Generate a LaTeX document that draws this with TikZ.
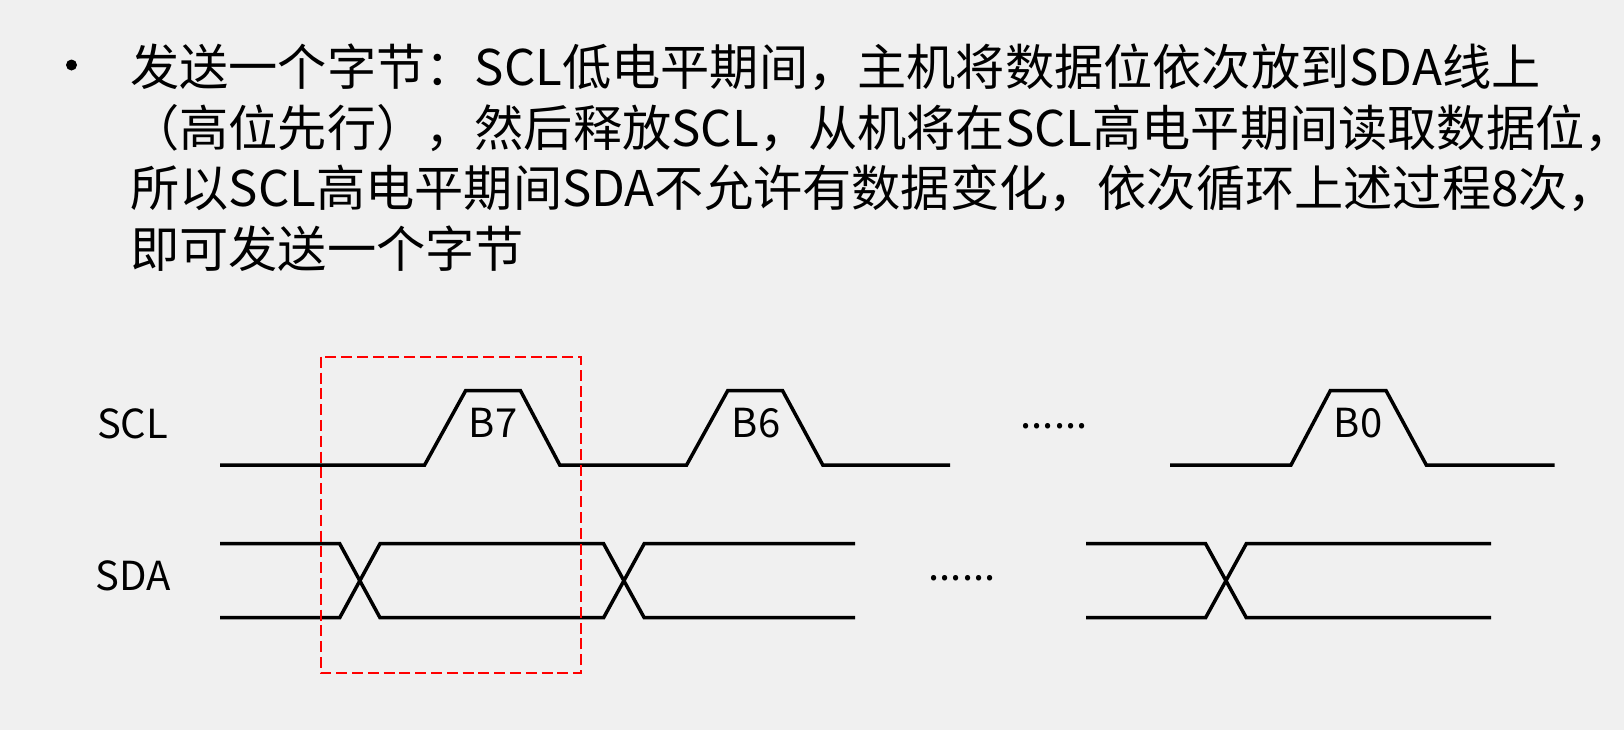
\documentclass[tikz,border=0pt]{standalone}
\usepackage{fontspec}
\setmainfont{Noto Sans CJK SC}
\setsansfont{Noto Sans CJK SC}
\definecolor{bg}{HTML}{F0F0F0}
\definecolor{boxred}{HTML}{FF0000}
\newcommand{\tailcomma}{\makebox[0.3em][l]{，}}
\tikzset{
  wave/.style={line width=1.75pt, line join=miter, line cap=butt, black},
  selbox/.style={draw=boxred, line width=1.1pt, dash pattern=on 5.5pt off 2.4pt},
  txt/.style={font=\fontsize{24.6pt}{30pt}\selectfont, anchor=base west, inner sep=0pt, text=black},
  lbl/.style={font=\fontsize{20pt}{24pt}\selectfont, inner sep=0pt, text=black},
  dots/.style={font=\fontsize{20pt}{24pt}\selectfont, inner sep=0pt, anchor=base, text=black},
  bulletdot/.style={circle, fill=black, minimum size=5.5pt, inner sep=0pt}
}
\begin{document}
\begin{tikzpicture}[x=0.5pt,y=-0.5pt]
\useasboundingbox (0,0) rectangle (1624,730);
\fill[bg] (0,0) rectangle (1624,730);
% text
\node[bulletdot] (bul) at (71.5,65) {};
\node[txt] (l1) at (130,85.5) {发送一个字节：SCL低电平期间，主机将数据位依次放到SDA线上};
\node[txt] (l2) at (130,146) {（高位先行），然后释放SCL，从机将在SCL高电平期间读取数据位\tailcomma};
\node[txt] (l3) at (130,206.5) {所以SCL高电平期间SDA不允许有数据变化，依次循环上述过程8次\tailcomma};
\node[txt] (l4) at (130,267) {即可发送一个字节};
% labels
\node[lbl] (scl) at (132.6,423.6) {SCL};
\node[lbl] (sda) at (133.6,575.9) {SDA};
\node[lbl] (b7) at (493,422.6) {B7};
\node[lbl] (b6) at (756,422.6) {B6};
\node[lbl] (b0) at (1358,422.6) {B0};
\node[dots] (d1) at (1054,428) {......};
\node[dots] (d2) at (962,580) {......};
% SCL
\draw[wave] (220,465) -- (424.6,465) -- (465.6,390.7) -- (520.5,390.7) -- (559.8,465) -- (686.6,465) -- (727.7,390.7) -- (782.6,390.7) -- (822.8,465) -- (950,465);
\draw[wave] (1170,465) -- (1291,465) -- (1330.3,390.7) -- (1386.1,390.7) -- (1426.3,465) -- (1554.5,465);
% SDA
\draw[wave] (220,543.7) -- (339.7,543.7) -- (380,617.7) -- (603.6,617.7) -- (644.2,543.7) -- (855,543.7);
\draw[wave] (220,617.7) -- (339.7,617.7) -- (380,543.7) -- (603.6,543.7) -- (644.2,617.7) -- (855,617.7);
\draw[wave] (1086,543.7) -- (1205.6,543.7) -- (1246.3,617.7) -- (1491,617.7);
\draw[wave] (1086,617.7) -- (1205.6,617.7) -- (1246.3,543.7) -- (1491,543.7);
% red box
\draw[selbox] (321,356.7) rectangle (580.8,673.3);
\end{tikzpicture}
\end{document}
